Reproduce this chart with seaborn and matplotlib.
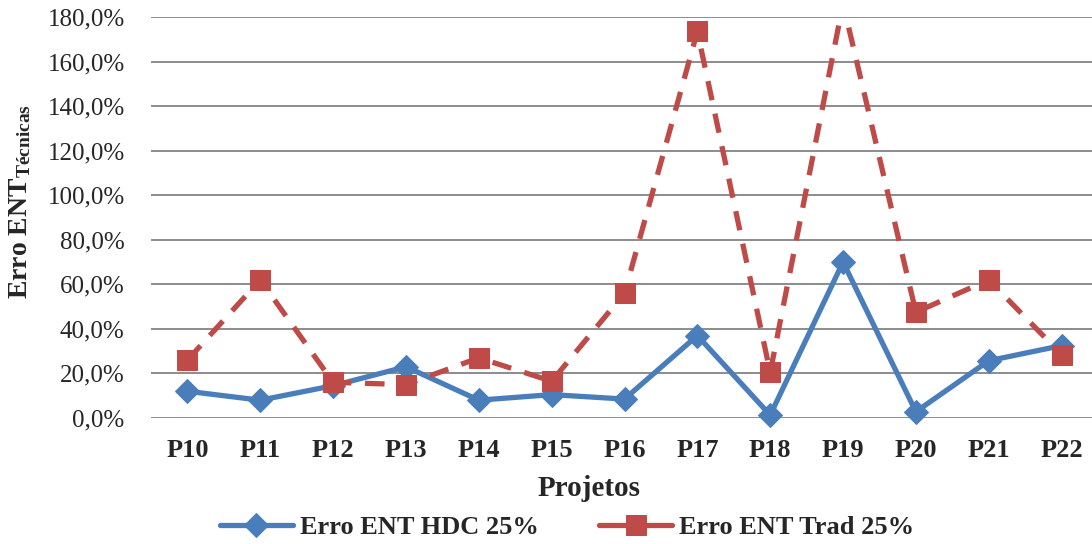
import numpy as np
import pandas as pd
import matplotlib
matplotlib.use("Agg")
import matplotlib.pyplot as plt
import seaborn as sns
from matplotlib.ticker import FuncFormatter

categories = ['P10', 'P11', 'P12', 'P13', 'P14', 'P15', 'P16',
              'P17', 'P18', 'P19', 'P20', 'P21', 'P22']
hdc_values = [12.0, 8.0, 14.5, 23.0, 8.0, 10.5, 8.5, 37.0, 1.3, 70.0, 2.8, 25.7, 32.5]
trad_values = [26.0, 62.0, 16.0, 15.0, 27.0, 16.5, 56.0, 173.5, 20.5, 186.0, 47.5, 62.0, 28.5]
series_names = ['Erro ENT HDC 25%', 'Erro ENT Trad 25%']
y_ticks = [0, 20, 40, 60, 80, 100, 120, 140, 160, 180]

sns.set_style('white')
plt.rcParams['font.family'] = ['Liberation Serif', 'DejaVu Serif']
plt.rcParams['mathtext.fontset'] = 'custom'
plt.rcParams['mathtext.rm'] = 'Liberation Serif:bold'
plt.rcParams['mathtext.it'] = 'Liberation Serif:bold'
plt.rcParams['mathtext.bf'] = 'Liberation Serif:bold'

W, H = 1092, 544
fig = plt.figure(figsize=(W / 100, H / 100), dpi=100)
left, right, top, bottom = 151, 1098, 17, 418
ax = fig.add_axes([left / W, 1 - bottom / H, (right - left) / W, (bottom - top) / H])

df = pd.DataFrame({'Projeto': categories, 'HDC': hdc_values, 'Trad': trad_values})

blue = '#4A7EBB'
red = '#BE4B48'

sns.lineplot(data=df, x='Projeto', y='HDC', ax=ax, color=blue, linewidth=3.8,
             marker='D', markersize=12, markeredgecolor=blue, markerfacecolor=blue,
             label=series_names[0], sort=False, clip_on=False, zorder=3)
sns.lineplot(data=df, x='Projeto', y='Trad', ax=ax, color=red, linewidth=3.8,
             linestyle=(0, (3.7, 2.6)), marker='s', markersize=14,
             markeredgecolor=red, markerfacecolor=red,
             label=series_names[1], sort=False, zorder=4)

ax.set_ylim(0, 180)
ax.set_xlim(-0.5, len(categories) - 0.5)
ax.set_yticks(y_ticks)
ax.yaxis.set_major_formatter(FuncFormatter(lambda v, p: f"{v:.1f}%".replace('.', ',')))
ax.grid(axis='y', color='#8C8C8C', linewidth=1.4)
ax.grid(axis='x', visible=False)
ax.set_axisbelow(True)
for s in ax.spines.values():
    s.set_visible(False)
ax.tick_params(axis='y', length=0, pad=19, labelsize=18)
ax.tick_params(axis='x', length=0, pad=15, labelsize=19)
for lbl in ax.get_xticklabels():
    lbl.set_fontweight('bold')

ax.set_xlabel('')
ax.set_ylabel('')
fig.text(589 / W, 1 - 488 / H, 'Projetos', ha='center', va='center',
         fontsize=21, fontweight='bold')
fig.text(20 / W, 1 - 201 / H, 'Erro ENT$_{\\mathrm{Técnicas}}$', rotation=90,
         ha='center', va='center', fontsize=20, fontweight='bold')

leg = ax.legend(loc='center', bbox_to_anchor=(567 / W, 1 - 527 / H),
                bbox_transform=fig.transFigure, ncol=2, frameon=False,
                prop={'family': 'Liberation Serif', 'weight': 'bold', 'size': 19},
                handlelength=2.75, handletextpad=0.27, columnspacing=2.3,
                borderpad=0, borderaxespad=0)
handles = leg.legend_handles if hasattr(leg, 'legend_handles') else leg.legendHandles
handles[1].set_linestyle('-')

fig.savefig('out.png', dpi=100)
